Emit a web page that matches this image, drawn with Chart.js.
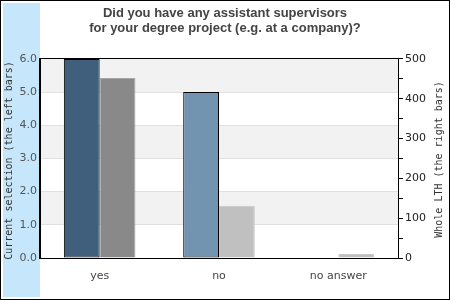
<!DOCTYPE html>
<html>
<head>
<meta charset="utf-8">
<script src="https://cdn.jsdelivr.net/npm/chart.js@4"></script>
<style>
  body { margin: 0; background: #fff; }
  canvas { display: block; }
</style>
</head>
<body>
<canvas id="myChart" width="450" height="300"></canvas>
<script>
const categories = ['yes', 'no', 'no answer'];
const currentSelection = [6, 5, 0];     // left bars, left axis
const wholeLTH = [452, 131, 10];        // right bars, right axis
const titleLines = ['Did you have any assistant supervisors', 'for your degree project (e.g. at a company)?'];
const leftAxisTitle = 'Current selection (the left bars)';
const rightAxisTitle = 'Whole LTH (the right bars)';

// frame, blue strip, alternating bands, plot border and rotated axis titles
const decor = {
    id: 'decor',
    beforeDraw(chart) {
        const ctx = chart.ctx;
        const area = chart.chartArea;
        const y = chart.scales.y;
        ctx.save();
        ctx.fillStyle = '#c6e6fc';
        ctx.fillRect(3, 3, 37, 294);
        ctx.strokeStyle = '#000';
        ctx.lineWidth = 1;
        ctx.strokeRect(0.5, 0.5, 449, 299);
        ctx.fillStyle = '#f2f2f2';
        for (let v = 1; v < 6; v += 2) {
            const top = y.getPixelForValue(v + 1);
            const bottom = y.getPixelForValue(v);
            ctx.fillRect(area.left, top, area.right - area.left, bottom - top);
        }
        ctx.restore();
    },
    afterDraw(chart) {
        const ctx = chart.ctx;
        const area = chart.chartArea;
        const mid = (area.top + area.bottom) / 2;
        ctx.save();
        ctx.strokeStyle = '#000';
        ctx.lineWidth = 1;
        ctx.strokeRect(Math.round(area.left) - 0.5, Math.round(area.top) - 0.5,
            Math.round(area.right - area.left) + 1, Math.round(area.bottom - area.top) + 1);
        ctx.font = '10px "DejaVu Sans Mono"';
        ctx.fillStyle = '#333';
        ctx.textAlign = 'center';
        ctx.textBaseline = 'middle';
        ctx.translate(9, mid + 2);
        ctx.rotate(-Math.PI / 2);
        ctx.fillText(leftAxisTitle, 0, 0);
        ctx.restore();
        ctx.save();
        ctx.font = '10px "DejaVu Sans Mono"';
        ctx.fillStyle = '#333';
        ctx.textAlign = 'center';
        ctx.textBaseline = 'middle';
        ctx.translate(439, mid + 1);
        ctx.rotate(-Math.PI / 2);
        ctx.fillText(rightAxisTitle, 0, 0);
        ctx.restore();
    }
};

const ctx = document.getElementById('myChart').getContext('2d');
const myChart = new Chart(ctx, {
    type: 'bar',
    data: {
        labels: categories,
        datasets: [{
            label: 'Current selection',
            data: currentSelection,
            yAxisID: 'y',
            backgroundColor: ['#3f5f7c', '#7294b1', '#7294b1'],
            borderColor: '#000',
            borderWidth: 1,
            borderSkipped: false
        }, {
            label: 'Whole LTH',
            data: wholeLTH,
            yAxisID: 'y1',
            backgroundColor: ['#898989', '#c0c0c0', '#c0c0c0'],
            borderColor: ['#a6a6a6', '#c8c8c8', '#c8c8c8'],
            borderWidth: 1,
            borderSkipped: 'bottom'
        }]
    },
    options: {
        responsive: false,
        animation: false,
        categoryPercentage: 0.6,
        barPercentage: 1.0,
        layout: { padding: 0 },
        plugins: {
            legend: { display: false },
            tooltip: { enabled: false },
            title: {
                display: true,
                text: titleLines,
                color: '#444',
                font: { family: '"Liberation Sans", Arial', size: 13, weight: 'bold', lineHeight: 1.15 },
                padding: { top: 6, bottom: 23 }
            }
        },
        scales: {
            x: {
                grid: { display: false },
                border: { display: true, color: '#000' },
                ticks: {
                    color: '#444',
                    font: { family: '"DejaVu Sans"', size: 11 },
                    padding: 4
                },
                afterFit(scale) { scale.height = 42; }
            },
            y: {
                position: 'left',
                min: 0,
                max: 6,
                grid: { color: '#e0e0e0', drawTicks: false },
                border: { display: true, color: '#000' },
                ticks: {
                    stepSize: 1,
                    color: '#555',
                    padding: 3,
                    font: { family: '"DejaVu Sans"', size: 11 },
                    callback: v => v.toFixed(1)
                },
                afterFit(scale) { scale.width = 40; }
            },
            y1: {
                position: 'right',
                min: 0,
                max: 500,
                grid: { drawOnChartArea: false, color: '#000', tickLength: 5 },
                border: { display: true, color: '#000' },
                ticks: {
                    stepSize: 50,
                    autoSkip: false,
                    color: '#222',
                    padding: 2,
                    font: { family: '"DejaVu Sans"', size: 11 },
                    callback: v => (v % 100 === 0 ? String(v) : '')
                },
                afterFit(scale) { scale.width = 52; }
            }
        }
    },
    plugins: [decor]
});
</script>
</body>
</html>
